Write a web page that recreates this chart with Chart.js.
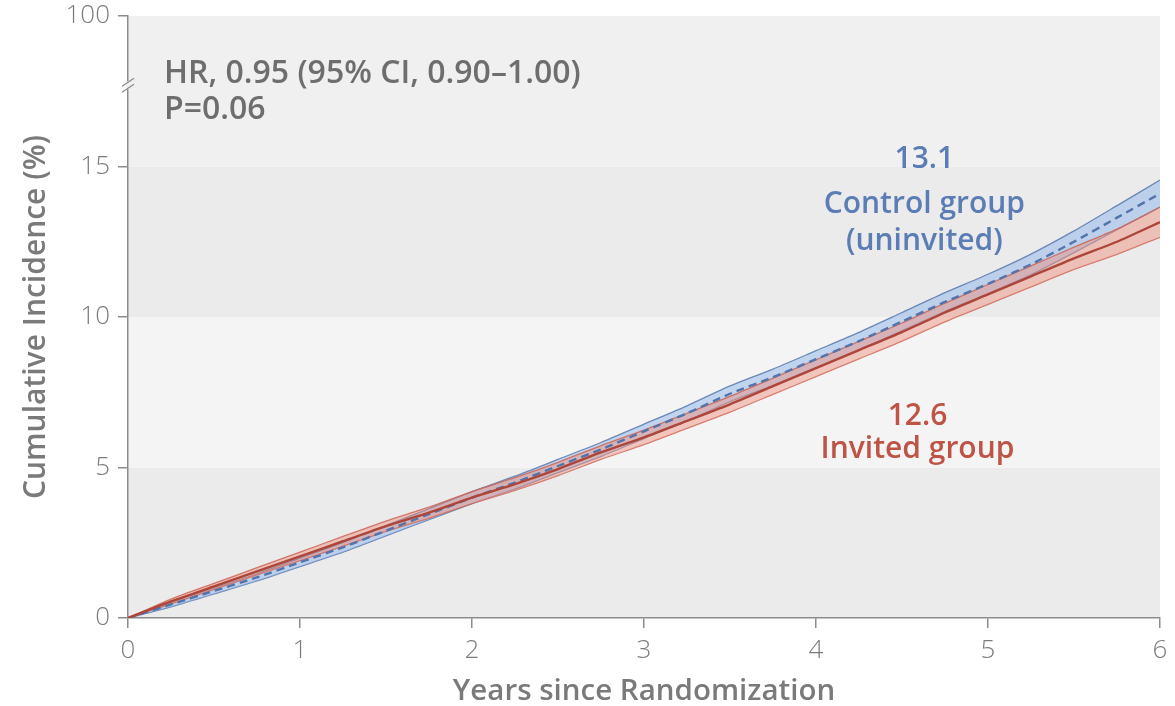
<!DOCTYPE html>
<html>
<head>
<meta charset="utf-8">
<script src="https://cdn.jsdelivr.net/npm/chart.js@4.4.1/dist/chart.umd.min.js"></script>
<style>
  html, body { margin: 0; padding: 0; background: #ffffff; }
  #wrap { width: 1175px; height: 706px; position: relative; }
</style>
</head>
<body>
<div id="wrap"><canvas id="c" width="1175" height="706"></canvas></div>
<script>
// Follow-up time (years)
const years = [0, 0.25, 0.5, 0.75, 1, 1.25, 1.5, 1.75, 2, 2.25, 2.5, 2.75, 3,
               3.25, 3.5, 3.75, 4, 4.25, 4.5, 4.75, 5, 5.25, 5.5, 5.75, 6];

// Control group (uninvited): cumulative incidence and 95% CI (%)
const controlIncidence = [0, 0.45, 0.9, 1.35, 1.85, 2.35, 2.9, 3.45, 4.0, 4.5, 5.05, 5.6, 6.2,
                          6.8, 7.45, 8.0, 8.6, 9.2, 9.85, 10.5, 11.1, 11.75, 12.5, 13.3, 14.1];
const controlLower = [0, 0.37, 0.8, 1.23, 1.71, 2.19, 2.73, 3.27, 3.8, 4.29, 4.83, 5.37, 5.96,
                      6.55, 7.19, 7.73, 8.32, 8.91, 9.55, 10.19, 10.78, 11.41, 12.14, 12.9, 13.65];
const controlUpper = [0, 0.53, 1.0, 1.47, 1.99, 2.51, 3.07, 3.63, 4.2, 4.71, 5.27, 5.83, 6.44,
                      7.05, 7.71, 8.27, 8.88, 9.49, 10.15, 10.81, 11.42, 12.09, 12.86, 13.7, 14.55];

// Invited group: cumulative incidence and 95% CI (%)
const invitedIncidence = [0, 0.55, 1.05, 1.55, 2.05, 2.55, 3.05, 3.5, 4.0, 4.45, 4.95, 5.5, 6.0,
                          6.55, 7.1, 7.7, 8.3, 8.9, 9.5, 10.15, 10.75, 11.35, 11.95, 12.5, 13.15];
const invitedLower = [0, 0.47, 0.95, 1.43, 1.91, 2.39, 2.88, 3.32, 3.8, 4.24, 4.73, 5.27, 5.76,
                      6.3, 6.84, 7.43, 8.02, 8.61, 9.2, 9.84, 10.42, 11.0, 11.58, 12.08, 12.65];
const invitedUpper = [0, 0.63, 1.15, 1.67, 2.19, 2.71, 3.22, 3.68, 4.2, 4.66, 5.17, 5.73, 6.24,
                      6.8, 7.36, 7.97, 8.58, 9.19, 9.8, 10.46, 11.08, 11.7, 12.32, 12.92, 13.65];

// Axis ticks (the top tick sits above the axis break and reads 100)
const xTickValues = [0, 1, 2, 3, 4, 5, 6];
const yTickValues = [0, 5, 10, 15, 20];
const yTickLabels = ['0', '5', '10', '15', '100'];
const yBreakValue = 17.7;

// Overall percentages reported for each group
const controlPercent = '13.1';
const invitedPercent = '12.6';
const statsLines = ['HR, 0.95 (95% CI, 0.90\u20131.00)', 'P=0.06'];

const pts = arr => years.map((t, i) => ({ x: t, y: arr[i] }));

const FONT = '"Open Sans", "Noto Sans", sans-serif';
const BLUE_TEXT = '#5b7db6';
const RED_TEXT = '#bf5346';

// Alternating shaded bands between the y ticks, axis break, and text notes
const decorPlugin = {
  id: 'decor',
  beforeDraw(chart) {
    const { ctx, chartArea: a, scales: { y } } = chart;
    const shades = ['#ebebeb', '#f4f4f4', '#ebebeb', '#f0f0f0'];
    ctx.save();
    for (let i = 0; i < yTickValues.length - 1; i++) {
      const top = y.getPixelForValue(yTickValues[i + 1]);
      const bot = y.getPixelForValue(yTickValues[i]);
      ctx.fillStyle = shades[i % shades.length];
      ctx.fillRect(a.left, top, a.right - a.left, bot - top);
    }
    ctx.restore();
  },
  afterDraw(chart) {
    const { ctx, chartArea: a, scales: { x, y } } = chart;
    ctx.save();
    // axis break marks
    const by = y.getPixelForValue(yBreakValue);
    ctx.strokeStyle = '#f0f0f0';
    ctx.lineWidth = 4;
    ctx.beginPath();
    ctx.moveTo(a.left, by - 4);
    ctx.lineTo(a.left, by + 4);
    ctx.stroke();
    ctx.strokeStyle = '#8c8c8c';
    ctx.lineWidth = 1.3;
    for (const d of [-3, 3]) {
      ctx.beginPath();
      ctx.moveTo(a.left - 6, by + 4 + d);
      ctx.lineTo(a.left + 6, by - 4 + d);
      ctx.stroke();
    }

    // statistics
    ctx.fillStyle = '#6e6e6e';
    ctx.font = '600 32px ' + FONT;
    ctx.textAlign = 'left';
    ctx.textBaseline = 'middle';
    ctx.fillText(statsLines[0], 164, 74);
    ctx.fillText(statsLines[1], 164, 110);

    // group labels
    ctx.textAlign = 'center';
    ctx.font = '600 30px ' + FONT;
    ctx.fillStyle = BLUE_TEXT;
    const cx = x.getPixelForValue(4.63);
    ctx.fillText(controlPercent, cx, y.getPixelForValue(15.25));
    ctx.fillText('Control group', cx, y.getPixelForValue(13.75));
    ctx.fillText('(uninvited)', cx, y.getPixelForValue(12.5));
    ctx.fillStyle = RED_TEXT;
    const rx = x.getPixelForValue(4.59);
    ctx.fillText(invitedPercent, rx, y.getPixelForValue(6.7));
    ctx.fillText('Invited group', rx, y.getPixelForValue(5.6));
    ctx.restore();
  }
};

new Chart(document.getElementById('c'), {
  type: 'line',
  data: {
    datasets: [
      { label: 'Invited group', data: pts(invitedIncidence), borderColor: '#ad4538',
        borderWidth: 2.4, fill: false },
      { label: 'Control group', data: pts(controlIncidence), borderColor: '#5274ab',
        borderWidth: 2.4, borderDash: [8, 5], fill: false },
      { label: 'Invited upper', data: pts(invitedUpper), borderColor: 'rgba(205,100,85,0.85)',
        borderWidth: 1.3, fill: '+1', backgroundColor: 'rgba(240,140,120,0.45)' },
      { label: 'Invited lower', data: pts(invitedLower), borderColor: 'rgba(205,100,85,0.85)',
        borderWidth: 1.3, fill: false },
      { label: 'Control upper', data: pts(controlUpper), borderColor: 'rgba(95,125,175,0.9)',
        borderWidth: 1.3, fill: '+1', backgroundColor: 'rgba(150,185,235,0.55)' },
      { label: 'Control lower', data: pts(controlLower), borderColor: 'rgba(95,125,175,0.9)',
        borderWidth: 1.3, fill: false }
    ]
  },
  options: {
    responsive: false,
    animation: false,
    layout: { padding: { top: 16, right: 15, left: 0, bottom: 0 } },
    elements: { point: { radius: 0 }, line: { tension: 0.2 } },
    plugins: { legend: { display: false }, tooltip: { enabled: false } },
    scales: {
      x: {
        type: 'linear', min: 0, max: 6,
        afterFit(s) { s.height = 88; s.paddingLeft = 0; s.paddingRight = 0; },
        afterBuildTicks(s) { s.ticks = xTickValues.map(v => ({ value: v })); },
        border: { color: '#8c8c8c', width: 1.5 },
        grid: { drawOnChartArea: false, color: '#8c8c8c', tickLength: 10, lineWidth: 1.5 },
        ticks: { color: '#7d7d7d', padding: 7, font: { family: FONT, size: 26, weight: '300' } },
        title: { display: true, text: 'Years since Randomization', color: '#7a7a7a',
                 font: { family: FONT, size: 29.5, weight: '600', lineHeight: 1 },
                 padding: { top: 0, bottom: 0 } }
      },
      y: {
        type: 'linear', min: 0, max: 20,
        afterFit(s) { s.width = 128; s.paddingTop = 0; s.paddingBottom = 0; },
        afterBuildTicks(s) { s.ticks = yTickValues.map(v => ({ value: v })); },
        border: { color: '#8c8c8c', width: 1.5 },
        grid: { drawOnChartArea: false, color: '#8c8c8c', tickLength: 10, lineWidth: 1.5 },
        ticks: { color: '#7d7d7d', padding: 8, font: { family: FONT, size: 26, weight: '300' },
                 callback: (v) => yTickLabels[yTickValues.indexOf(v)] },
        title: { display: true, text: 'Cumulative Incidence (%)', color: '#7a7a7a',
                 font: { family: FONT, size: 30, weight: '600' }, padding: { top: 18 } }
      }
    }
  },
  plugins: [decorPlugin]
});
</script>
</body>
</html>
